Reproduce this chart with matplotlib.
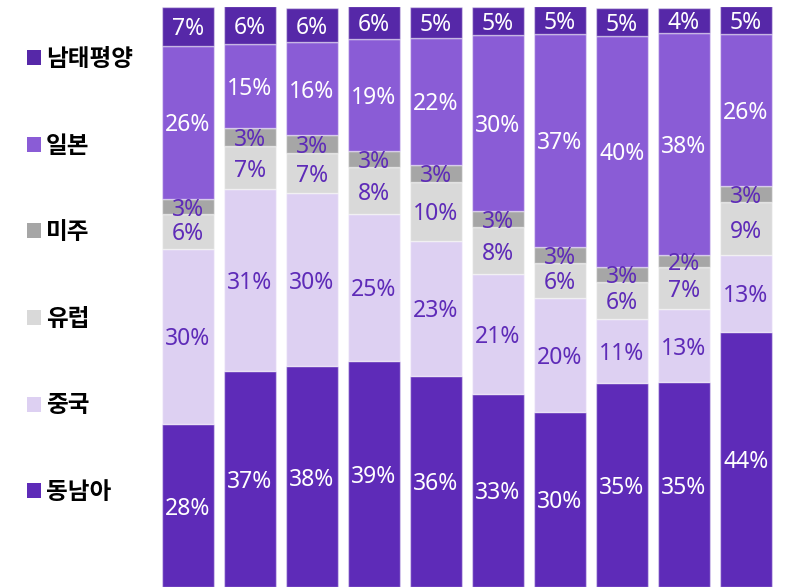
import matplotlib.pyplot as plt
from matplotlib.patches import Patch

plt.rcParams['font.family'] = ['Noto Sans CJK KR', 'DejaVu Sans']

regions = ['동남아', '중국', '유럽', '미주', '일본', '남태평양']
colors = ['#5e2bb8', '#ddd0f2', '#d9d9d9', '#a6a6a6', '#8a5cd6', '#5628a8']
text_colors = ['white', '#5e2bb8', '#5e2bb8', '#5e2bb8', 'white', 'white']

# share (%) per bar, bottom to top
sea = [28.1, 37.2, 38.1, 39.0, 36.4, 33.3, 30.2, 35.2, 35.3, 44.0]
china = [30.2, 31.4, 29.8, 25.3, 23.3, 20.6, 19.7, 11.0, 12.6, 13.3]
europe = [6.0, 7.4, 6.9, 8.1, 10.2, 8.1, 6.0, 6.4, 7.2, 9.0]
america = [2.6, 3.1, 3.1, 2.8, 2.9, 2.9, 2.8, 2.6, 2.2, 2.8]
japan = [26.4, 14.6, 16.0, 19.3, 21.9, 30.3, 36.6, 39.8, 38.3, 26.2]
pacific = [6.7, 6.4, 6.0, 5.7, 5.3, 4.8, 4.8, 4.8, 4.3, 4.8]

series = [sea, china, europe, america, japan, pacific]
x = list(range(len(sea)))

fig = plt.figure(figsize=(7.92, 5.87), dpi=100)
ax = fig.add_axes([157 / 792, 0, 620 / 792, 580 / 587])

bottom = [0] * len(x)
handles = []
for vals, name, col, tcol in zip(series, regions, colors, text_colors):
  bars = ax.bar(x, vals, width=0.84, bottom=bottom, color=col,
                edgecolor=(1, 1, 1, 0.45), linewidth=1)
  for xi, v, b in zip(x, vals, bottom):
    ax.text(xi, b + v / 2, f'{v:.0f}%', ha='center', va='center_baseline',
            color=tcol, fontsize=16.5, fontweight='medium',
            family=['Noto Sans', 'DejaVu Sans'])
  bottom = [b + v for b, v in zip(bottom, vals)]
  handles.append(Patch(facecolor=col, label=name))

ax.set_xlim(-0.5, 9.5)
ax.set_ylim(0, 100)
ax.axis('off')

fig.legend(handles=handles[::-1], loc='upper left', bbox_to_anchor=(0.007, 0.956),
           frameon=False, labelspacing=2.65, handlelength=0.6,
           handleheight=0.6, handletextpad=0.2, prop={'weight': 'bold', 'size': 17})

fig.savefig('out.png', dpi=100)
